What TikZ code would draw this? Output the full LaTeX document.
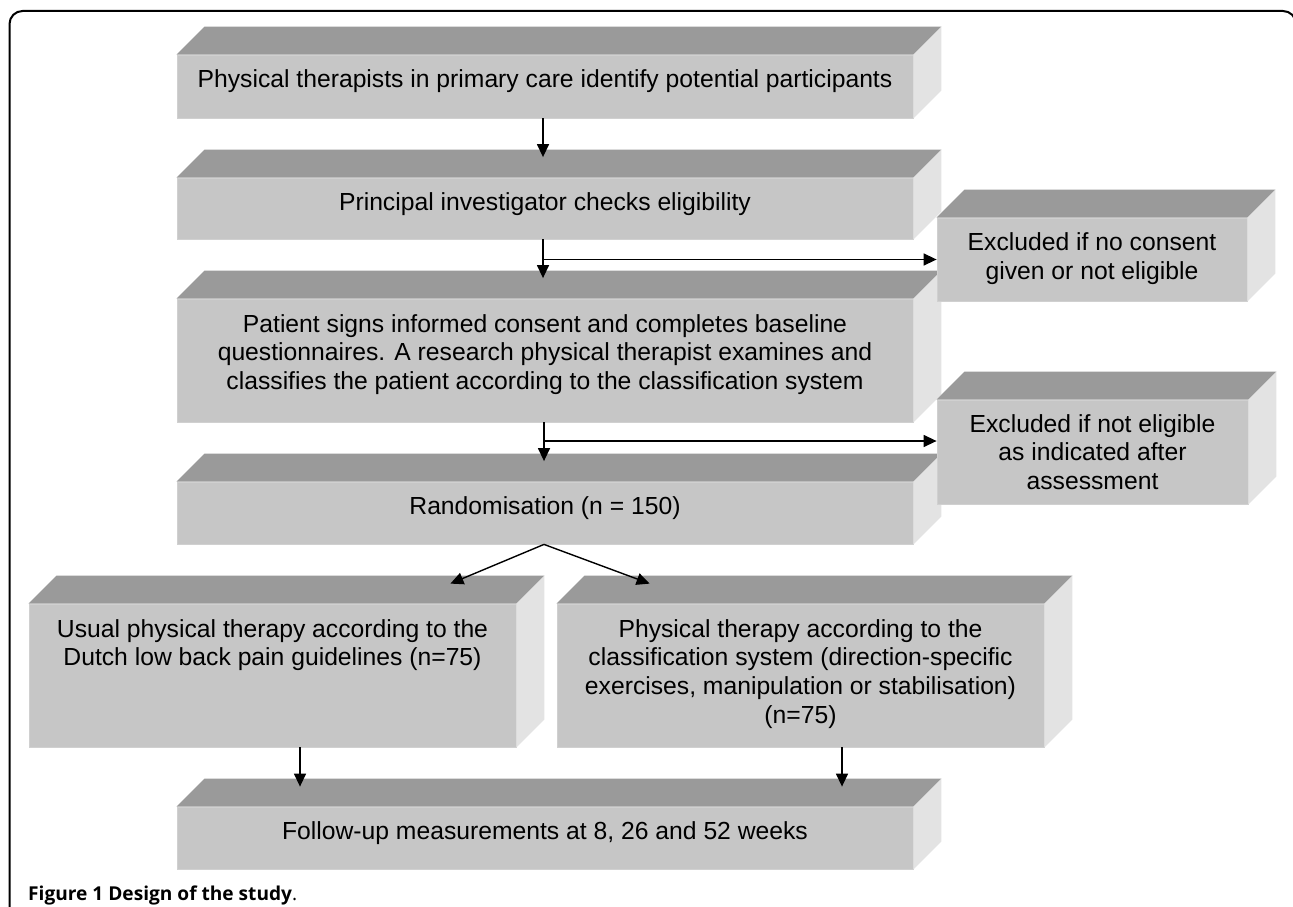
\documentclass[tikz,border=0pt]{standalone}
\usepackage{fontspec}
\setmainfont{Liberation Sans}
\newfontfamily\capfont{Open Sans}
\usetikzlibrary{arrows.meta}
\definecolor{topc}{HTML}{9A9A9A}
\definecolor{frontc}{HTML}{C6C6C6}
\definecolor{sidec}{HTML}{E3E3E3}
\definecolor{edgec}{HTML}{D0D0D0}
\newlength\mycapw
\newcommand\depthfaces[1]{%
  \fill[topc] (#1.north west) -- ++(28,-28) -- ([xshift=28pt,yshift=28pt]#1.north east) -- (#1.north east) -- cycle;
  \fill[sidec] (#1.north east) -- ++(28,-28) -- ([xshift=28pt,yshift=28pt]#1.south east) -- (#1.south east) -- cycle;
}
\begin{document}
\settowidth\mycapw{\capfont\fontsize{10}{12}\selectfont\textbf{Figure 1 Design of the study}.}
\begin{tikzpicture}[x=1pt,y=-1pt,
  front/.style={fill=frontc, draw=edgec, line width=0.8pt, inner sep=0pt, minimum width=736pt},
  boxtext/.style={font=\fontsize{24.7}{28.7}\selectfont, align=center, inner sep=0pt, anchor=base},
  arr/.style={line width=1.4pt, -{Triangle[length=13pt,width=12pt]}},
  frame/.style={line width=2pt, rounded corners=13pt}]
\pgfmathsetmacro\mycapsize{10*269/\mycapw}
\useasboundingbox (0,0) rectangle (1293,907);
\draw[frame] (9.5,930) -- (9.5,11) -- (1296,11) -- (1296,930);

% main column
\node[front, minimum height=63pt] (b1) at (545,86.5) {};
\depthfaces{b1}
\node[front, minimum height=61pt] (b2) at (545,208.5) {};
\depthfaces{b2}
\node[front, minimum height=123pt] (b3) at (545,360.5) {};
\depthfaces{b3}
\node[front, minimum height=62pt] (b4) at (545,513) {};
\depthfaces{b4}
\node[front, minimum width=487pt, minimum height=143pt] (b5) at (272.5,675.5) {};
\depthfaces{b5}
\node[front, minimum width=487pt, minimum height=143pt] (b6) at (800.5,675.5) {};
\depthfaces{b6}
\node[front, minimum height=62pt] (b7) at (545,838) {};
\depthfaces{b7}
% exclusion boxes
\node[front, minimum width=310pt, minimum height=83pt] (e1) at (1092,259.5) {};
\depthfaces{e1}
\node[front, minimum width=311pt, minimum height=104pt] (e2) at (1092.5,452) {};
\depthfaces{e2}

% texts (base anchor = baseline of last line)
\node[boxtext] (t1) at (545,88) {Physical therapists in primary care identify potential participants};
\node[boxtext] (t2) at (545,210) {Principal investigator checks eligibility};
\node[boxtext] (t3) at (545,389.4) {Patient signs informed consent and completes baseline\\questionnaires. A research physical therapist examines and\\classifies the patient according to the classification system};
\node[boxtext] (t4) at (545,514) {Randomisation (n = 150)};
\node[boxtext] (t5) at (272.5,665.7) {Usual physical therapy according to the\\Dutch low back pain guidelines (n=75)};
\node[boxtext] (t6) at (800.5,723.1) {Physical therapy according to the\\classification system (direction-specific\\exercises, manipulation or stabilisation)\\(n=75)};
\node[boxtext] (t7) at (545,839) {Follow-up measurements at 8, 26 and 52 weeks};
\node[boxtext] (te1) at (1092,279.2) {Excluded if no consent\\given or not eligible};
\node[boxtext] (te2) at (1092.5,489.4) {Excluded if not eligible\\as indicated after\\assessment};

% connectors
\draw[arr] ([xshift=-2pt]b1.south) -- ([xshift=-2pt,yshift=20.5pt]b2.north);
\draw[arr] ([xshift=-2pt]b2.south) -- ([xshift=-2pt,yshift=20.5pt]b3.north);
\draw[arr] ([xshift=-2pt]b2.south) |- (e1.west);
\draw[arr] ([xshift=-1pt]b3.south) -- ([xshift=-1pt,yshift=20.5pt]b4.north);
\draw[arr] ([xshift=-1pt]b3.south) |- ([yshift=11pt]e2.west);
\draw[arr] ([xshift=-1pt]b4.south) -- ([xshift=-66pt,yshift=20pt]b5.north east);
\draw[arr] ([xshift=-1pt]b4.south) -- ([xshift=93pt,yshift=20pt]b6.north west);
\draw[arr] ([xshift=27.5pt]b5.south) -- ([xshift=27.5pt,yshift=20pt]b5.south |- b7.north);
\draw[arr] ([xshift=41.5pt]b6.south) -- ([xshift=41.5pt,yshift=20pt]b6.south |- b7.north);

% caption
\node[anchor=base west, inner sep=0pt, font=\capfont\fontsize{\mycapsize}{20}\selectfont] (cap) at (28,900) {\textbf{Figure 1 Design of the study}.};
\end{tikzpicture}
\end{document}
